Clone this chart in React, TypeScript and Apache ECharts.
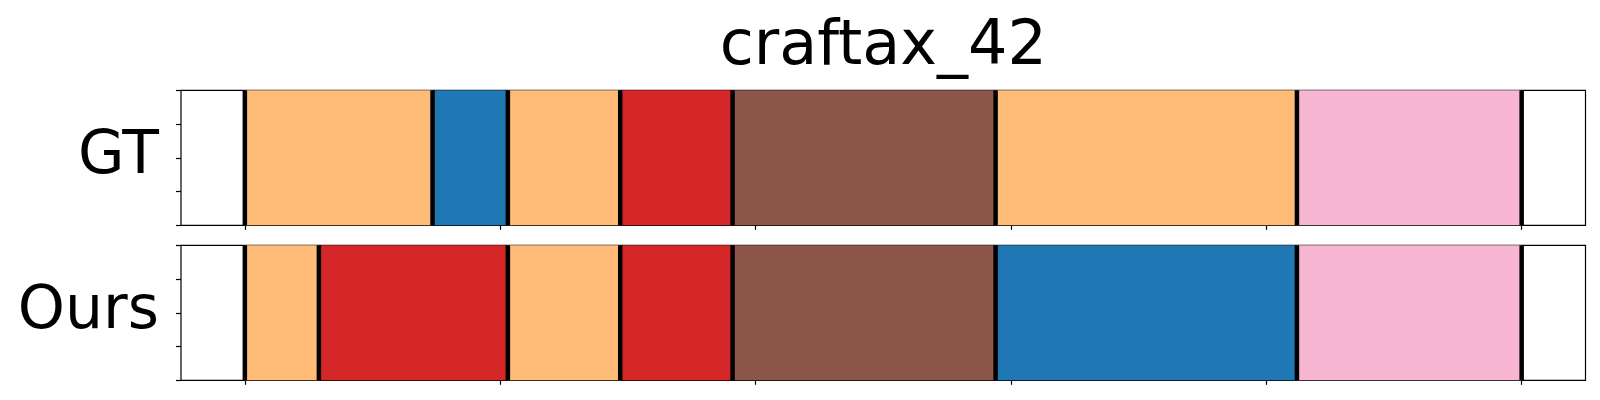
import React, { useEffect, useRef } from "react";
import * as echarts from "echarts";

const title = "craftax_42";
const rowNames = ["GT", "Ours"];
const xTicks = [0, 100, 200, 300, 400, 500];
const yTicks = [0, 0.25, 0.5, 0.75, 1];
const gtBounds = [0, 73.5, 103, 147, 191, 294, 412, 500];
const gtClasses = ["orange", "blue", "orange", "red", "brown", "orange", "pink"];
const oursBounds = [0, 29, 103, 147, 191, 294, 412, 500];
const oursClasses = ["orange", "red", "orange", "red", "brown", "blue", "pink"];

const palette: Record<string, string> = {
  orange: "#ffbb78",
  blue: "#1f77b4",
  red: "#d62728",
  brown: "#8c564b",
  pink: "#f7b6d2",
};

const FONT = "DejaVu Sans";

function segData(bounds: number[], classes: string[]) {
  return classes.map((c, i) => ({ value: [bounds[i], bounds[i + 1]], itemStyle: { color: palette[c] } }));
}

export default function App() {
  const ref = useRef<HTMLDivElement>(null);
  useEffect(() => {
    const chart = echarts.init(ref.current!, null, { renderer: "svg" });
    const gridLeft = 181;
    const gridWidth = 1404.5;
    const tops = [90.3, 245.3];
    const height = 135;
    const grids = tops.map((t) => ({
      left: gridLeft,
      top: t,
      width: gridWidth,
      height,
      show: true,
      borderColor: "#000",
      borderWidth: 1.2,
      backgroundColor: "transparent",
    }));
    const xAxes = tops.map((_, i) => ({
      type: "value",
      gridIndex: i,
      min: -25,
      max: 525,
      position: "bottom",
      axisLine: { show: false, onZero: false },
      splitLine: { show: false },
      axisTick: { show: true, length: 4.5, lineStyle: { color: "#000", width: 1.2 }, customValues: xTicks },
      axisLabel: { show: false },
    }));
    const yAxes = tops.map((_, i) => ({
      type: "value",
      gridIndex: i,
      min: 0,
      max: 1,
      interval: 0.25,
      position: "left",
      axisLine: { show: false, onZero: false },
      splitLine: { show: false },
      axisTick: { show: true, length: 5, lineStyle: { color: "#000", width: 1.2 }, customValues: yTicks },
      axisLabel: { show: false },
    }));
    const rows = [
      { bounds: gtBounds, classes: gtClasses },
      { bounds: oursBounds, classes: oursClasses },
    ];
    const series: any[] = [];
    rows.forEach((r, i) => {
      series.push({
        type: "custom",
        xAxisIndex: i,
        yAxisIndex: i,
        data: segData(r.bounds, r.classes),
        renderItem: (params: any, api: any) => {
          const p0 = api.coord([api.value(0), 1]);
          const p1 = api.coord([api.value(1), 0]);
          return {
            type: "rect",
            shape: { x: p0[0], y: p0[1], width: p1[0] - p0[0], height: p1[1] - p0[1] },
            style: { fill: api.visual("color") },
          };
        },
      });
      series.push({
        type: "custom",
        xAxisIndex: i,
        yAxisIndex: i,
        data: r.bounds.map((b) => [b]),
        renderItem: (params: any, api: any) => {
          const p0 = api.coord([api.value(0), 1]);
          const p1 = api.coord([api.value(0), 0]);
          return {
            type: "line",
            shape: { x1: p0[0], y1: p0[1], x2: p1[0], y2: p1[1] },
            style: { stroke: "#000", lineWidth: 4.5 },
          };
        },
      });
    });
    chart.setOption({
      animation: false,
      grid: grids,
      xAxis: xAxes,
      yAxis: yAxes,
      series,
      graphic: [
        {
          type: "text",
          x: gridLeft + gridWidth / 2,
          y: 42,
          style: { text: title, font: `62px '${FONT}'`, fill: "#000", textAlign: "center", textVerticalAlign: "middle" },
        },
        ...rowNames.map((n, i) => ({
          type: "text",
          x: 159,
          y: tops[i] + height / 2 - 6,
          style: { text: n, font: `60px '${FONT}'`, fill: "#000", textAlign: "right", textVerticalAlign: "middle" },
        })),
      ],
    });
    return () => chart.dispose();
  }, []);
  return <div ref={ref} style={{ position: "fixed", left: 0, top: 0, width: 1600, height: 400, background: "#fff" }} />;
}
